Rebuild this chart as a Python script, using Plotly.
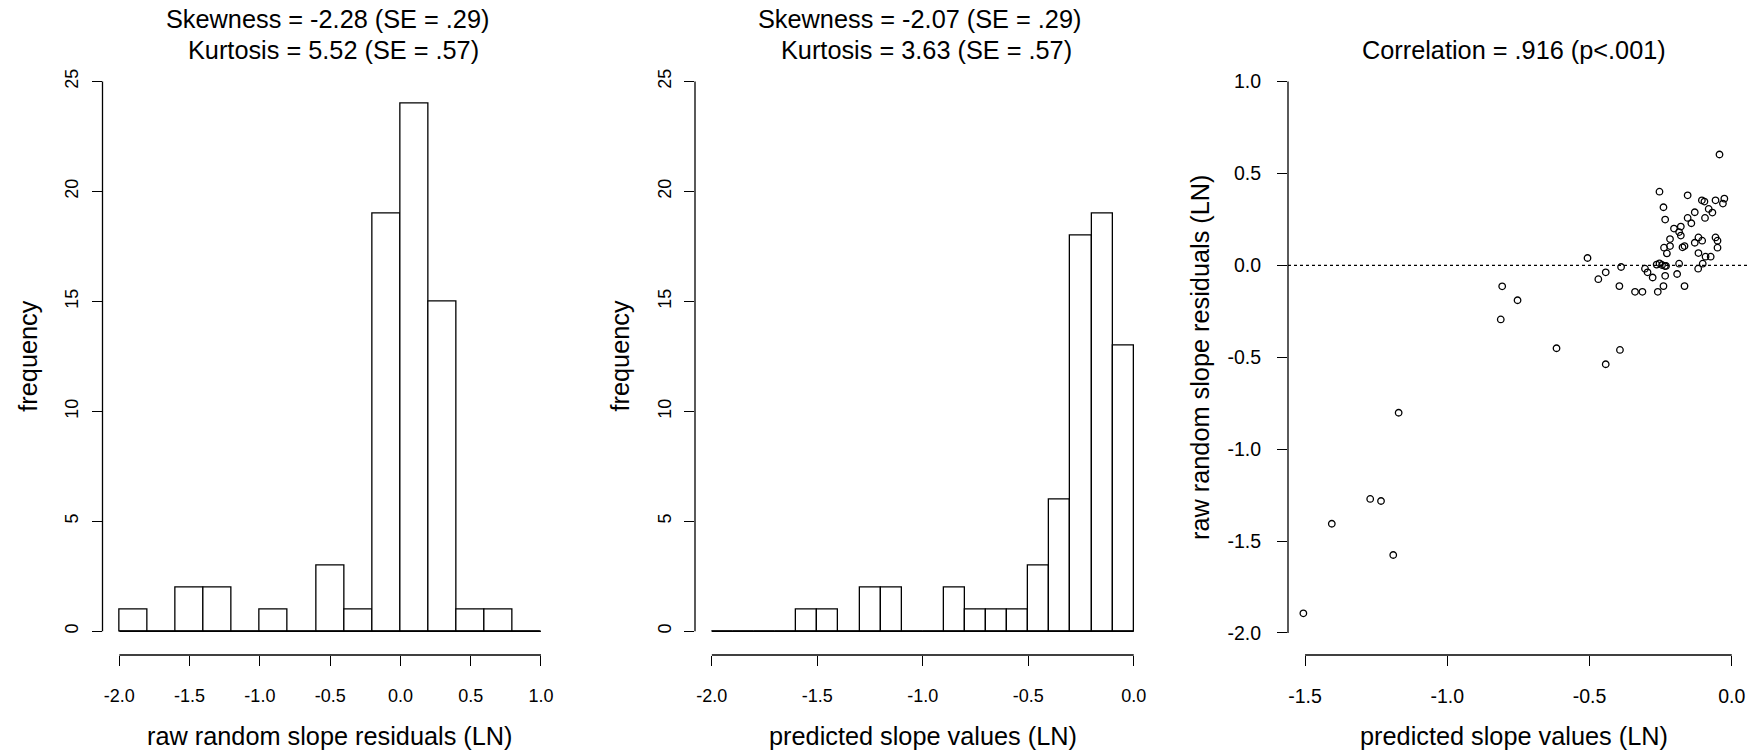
import plotly.graph_objects as go

# ---- histogram of raw random slope residuals (bin width 0.2, -2.0 .. 1.0)
resid_breaks = [-2.0, -1.8, -1.6, -1.4, -1.2, -1.0, -0.8, -0.6, -0.4, -0.2,
                0.0, 0.2, 0.4, 0.6, 0.8, 1.0]
resid_counts = [1, 0, 2, 2, 0, 1, 0, 3, 1, 19, 24, 15, 1, 1, 0]

# ---- histogram of predicted slope values (bin width 0.1, -2.0 .. 0.0)
pred_breaks = [-2.0, -1.9, -1.8, -1.7, -1.6, -1.5, -1.4, -1.3, -1.2, -1.1,
               -1.0, -0.9, -0.8, -0.7, -0.6, -0.5, -0.4, -0.3, -0.2, -0.1, 0.0]
pred_counts = [0, 0, 0, 0, 1, 1, 0, 2, 2, 0, 0, 2, 1, 1, 1, 3, 6, 18, 19, 13]

# ---- scatter: predicted slope (x) vs raw random slope residual (y)
pred_x = [
    -0.043, -0.254, -0.155, -0.105, -0.096, -0.057, -0.026, -0.031, -0.240,
    -0.081, -0.068, -0.130, -0.155, -0.142, -0.094, -0.234, -0.203, -0.179,
    -0.185, -0.179, -0.217, -0.117, -0.104, -0.130, -0.057, -0.050, -0.238,
    -0.217, -0.173, -0.166, -0.050, -0.228, -0.117, -0.092, -0.074, -0.507,
    -0.254, -0.264, -0.245, -0.231, -0.235, -0.185, -0.102, -0.389, -0.118,
    -0.305, -0.296, -0.443, -0.469, -0.278, -0.234, -0.192, -0.395, -0.166,
    -0.240, -0.340, -0.314, -0.260,
    -0.807, -0.753, -0.812, -0.616, -0.443, -0.393,
    -1.506, -1.406, -1.271, -1.233, -1.190, -1.171,
]
resid_y = [
    0.603, 0.401, 0.381, 0.354, 0.347, 0.354, 0.363, 0.336, 0.316,
    0.307, 0.287, 0.289, 0.258, 0.229, 0.258, 0.249, 0.200, 0.211,
    0.181, 0.162, 0.143, 0.152, 0.134, 0.123, 0.152, 0.134, 0.096,
    0.105, 0.098, 0.105, 0.096, 0.065, 0.067, 0.047, 0.047, 0.040,
    0.011, 0.004, 0.002, -0.003, -0.004, 0.009, 0.009, -0.009, -0.018,
    -0.018, -0.038, -0.038, -0.075, -0.066, -0.057, -0.047, -0.113, -0.113,
    -0.113, -0.144, -0.144, -0.144,
    -0.114, -0.190, -0.294, -0.451, -0.538, -0.460,
    -1.893, -1.406, -1.271, -1.282, -1.576, -0.802,
]

hist1_title = ["Skewness = -2.28 (SE = .29)", "Kurtosis = 5.52 (SE = .57)"]
hist2_title = ["Skewness = -2.07 (SE = .29)", "Kurtosis = 3.63 (SE = .57)"]
scatter_title = "Correlation = .916 (p<.001)"

freq_ticks = [0, 5, 10, 15, 20, 25]
resid_ticks = [-2.0, -1.5, -1.0, -0.5, 0.0, 0.5, 1.0]
pred_ticks = [-2.0, -1.5, -1.0, -0.5, 0.0]
scat_x_ticks = [-1.5, -1.0, -0.5, 0.0]
scat_y_ticks = [-2.0, -1.5, -1.0, -0.5, 0.0, 0.5, 1.0]

FONT = "Liberation Sans, Arial, Helvetica, sans-serif"
W, H = 1760, 753
LW = 1.3
TICK_FONT = 18
LAB_FONT = 25.3


def fmt(v):
    return f"{v:.1f}".replace("\u2212", "-")


def px_x(p):
    return p / W


def px_y(p):
    return 1 - p / H


fig = go.Figure()


def add_hist(breaks, counts, xa, ya):
    centers = [(a + b) / 2 for a, b in zip(breaks[:-1], breaks[1:])]
    widths = [b - a for a, b in zip(breaks[:-1], breaks[1:])]
    fig.add_trace(go.Bar(
        x=centers, y=counts, width=widths, xaxis=xa, yaxis=ya,
        marker=dict(color="white", line=dict(color="black", width=LW)),
        showlegend=False, hoverinfo="x+y",
    ))
    # empty bins are drawn as a flat line along zero
    fig.add_shape(type="line", xref=xa, yref=ya, x0=breaks[0], x1=breaks[-1],
                  y0=0, y1=0, line=dict(color="black", width=LW))


add_hist(resid_breaks, resid_counts, "x", "y")
add_hist(pred_breaks, pred_counts, "x2", "y2")

fig.add_trace(go.Scatter(
    x=pred_x, y=resid_y, mode="markers", xaxis="x3", yaxis="y3",
    marker=dict(symbol="circle-open", size=6.5, color="black",
                line=dict(width=LW, color="black")),
    showlegend=False,
))

# horizontal reference line at zero residual
fig.add_shape(type="line", xref="x3 domain", yref="y3", x0=0, x1=1, y0=0, y1=0,
              line=dict(color="black", width=LW, dash="dot"))

y_dom = [98 / H, 693.5 / H]
x_doms = {
    "x": [102.5 / W, 557.8 / W],
    "x2": [695.0 / W, 1150.6 / W],
    "x3": [1288.0 / W, 1748.8 / W],
}

common = dict(showgrid=False, zeroline=False, showline=False, ticks="outside",
              ticklen=10, tickwidth=LW, tickcolor="black",
              tickfont=dict(family=FONT, size=TICK_FONT, color="black"),
              tickmode="array", fixedrange=True)

fig.update_layout(
    xaxis=dict(domain=x_doms["x"], anchor="y", range=[-2.12, 1.12],
               tickvals=resid_ticks, ticktext=[fmt(v) for v in resid_ticks],
               ticklabelstandoff=14, **common),
    yaxis=dict(domain=y_dom, anchor="x", range=[-1.08, 26.0],
               tickvals=freq_ticks, ticktext=[str(v) for v in freq_ticks],
               tickangle=-90, ticklabelstandoff=6, **common),
    xaxis2=dict(domain=x_doms["x2"], anchor="y2", range=[-2.08, 0.08],
                tickvals=pred_ticks, ticktext=[fmt(v) for v in pred_ticks],
                ticklabelstandoff=14, **common),
    yaxis2=dict(domain=y_dom, anchor="x2", range=[-1.08, 26.0],
                tickvals=freq_ticks, ticktext=[str(v) for v in freq_ticks],
                tickangle=-90, ticklabelstandoff=6, **common),
    xaxis3=dict(domain=x_doms["x3"], anchor="y3", range=[-1.56, 0.06],
                tickvals=scat_x_ticks, ticktext=[fmt(v) for v in scat_x_ticks],
                ticklabelstandoff=14, **{**common, "tickfont": dict(family=FONT, size=19.5, color="black")}),
    yaxis3=dict(domain=y_dom, anchor="x3", range=[-2.12, 1.12],
                tickvals=scat_y_ticks, ticktext=[fmt(v) for v in scat_y_ticks],
                ticklabelstandoff=12, **{**common, "tickfont": dict(family=FONT, size=19.5, color="black")}),
)

# axis lines spanning only the tick range
axis_lines = [
    ("x", "y", resid_ticks[0], resid_ticks[-1], freq_ticks[0], freq_ticks[-1]),
    ("x2", "y2", pred_ticks[0], pred_ticks[-1], freq_ticks[0], freq_ticks[-1]),
    ("x3", "y3", scat_x_ticks[0], scat_x_ticks[-1], scat_y_ticks[0], scat_y_ticks[-1]),
]
for xa, ya, xa0, xa1, ya0, ya1 in axis_lines:
    fig.add_shape(type="line", xref=xa, yref=f"{ya} domain", x0=xa0, x1=xa1,
                  y0=0, y1=0, line=dict(color="black", width=LW))
    fig.add_shape(type="line", xref=f"{xa} domain", yref=ya, x0=0, x1=0,
                  y0=ya0, y1=ya1, line=dict(color="black", width=LW))


def text(s, x, y, angle=0, size=LAB_FONT):
    fig.add_annotation(text=s, xref="paper", yref="paper", x=px_x(x), y=px_y(y),
                       xanchor="center", yanchor="middle", showarrow=False,
                       textangle=angle,
                       font=dict(family=FONT, size=size, color="black"))


# panel titles
text(hist1_title[0], 327.4, 19.5)
text(hist1_title[1], 333.9, 50.5)
text(hist2_title[0], 919.7, 19.5)
text(hist2_title[1], 926.4, 50.5)
text(scatter_title, 1514, 50.5)

# axis titles
text("raw random slope residuals (LN)", 330.2, 736)
text("predicted slope values (LN)", 923.3, 736)
text("predicted slope values (LN)", 1514, 736)
text("frequency", 27.7, 356, angle=-90)
text("frequency", 619.5, 356, angle=-90)
text("raw random slope residuals (LN)", 1200, 357, angle=-90)

fig.update_layout(
    width=W, height=H, margin=dict(l=0, r=0, t=0, b=0),
    paper_bgcolor="white", plot_bgcolor="white", showlegend=False,
    bargap=0,
)

fig.write_html("out.html")
